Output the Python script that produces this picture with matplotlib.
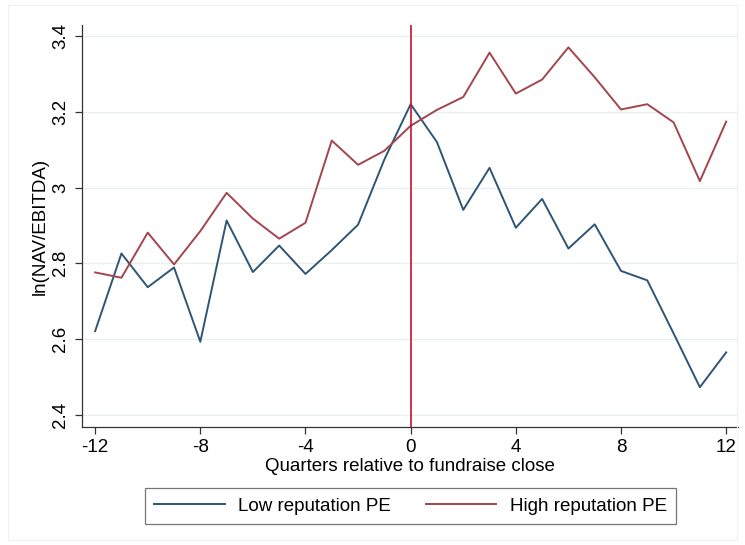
import matplotlib
matplotlib.use("Agg")
import matplotlib.pyplot as plt
from matplotlib.patches import Rectangle

quarters = list(range(-12, 13))
low_rep = [2.621, 2.826, 2.737, 2.789, 2.593, 2.913, 2.777, 2.847, 2.772, 2.835, 2.902, 3.074,
           3.220, 3.120, 2.941, 3.052, 2.894, 2.970, 2.839, 2.903, 2.780, 2.755, 2.615, 2.473, 2.565]
high_rep = [2.776, 2.762, 2.881, 2.797, 2.885, 2.986, 2.918, 2.865, 2.907, 3.124, 3.060, 3.097,
            3.163, 3.205, 3.239, 3.356, 3.248, 3.285, 3.370, 3.291, 3.206, 3.220, 3.172, 3.017, 3.174]
xticks = [-12, -8, -4, 0, 4, 8, 12]
yticks = [2.4, 2.6, 2.8, 3.0, 3.2, 3.4]
ytick_labels = ["2.4", "2.6", "2.8", "3", "3.2", "3.4"]

plt.rcParams['font.family'] = ['Liberation Sans', 'DejaVu Sans']
FS = 13.5

fig = plt.figure(figsize=(7.45, 5.45), dpi=100)
fig.patch.set_facecolor('white')
fig.patches.append(Rectangle((8/745, 1 - 540/545), 729/745, 535/545, transform=fig.transFigure,
                             fill=False, edgecolor='#f0f0f0', linewidth=0.8))

ax = fig.add_axes([82/745, 1 - 427/545, 656/745, 402/545])
ax.plot(quarters, low_rep, color='#2e5577', lw=1.4, label='Low reputation PE', zorder=3)
ax.plot(quarters, high_rep, color='#a2454d', lw=1.4, label='High reputation PE', zorder=3)
ax.axvline(0, color='#c8102e', lw=1.2, zorder=4)

ax.set_xlim(-12.5, 12.45)
ax.set_ylim(2.368, 3.429)
ax.set_xticks(xticks)
ax.set_xticklabels([str(t) for t in xticks], fontsize=FS)
ax.set_yticks(yticks)
ax.set_yticklabels(ytick_labels, fontsize=FS, rotation=90, va='center')
ax.grid(axis='y', color='#e8f0f3', lw=1.0)
ax.grid(axis='x', visible=False)
ax.set_axisbelow(True)
for s in ['top', 'right']:
    ax.spines[s].set_visible(False)
for s in ['left', 'bottom']:
    ax.spines[s].set_color('#333333')
    ax.spines[s].set_linewidth(0.9)
ax.tick_params(axis='both', direction='out', length=5, width=0.9, color='#333333', pad=4)
ax.set_xlabel('Quarters relative to fundraise close', fontsize=FS, labelpad=1)
ax.set_ylabel('ln(NAV/EBITDA)', fontsize=FS, labelpad=3)

leg = fig.legend(loc='center', bbox_to_anchor=(410.5/745, 1 - 506/545), ncol=2, fontsize=FS,
                 frameon=True, fancybox=False, edgecolor='#555555', handlelength=3.75,
                 columnspacing=1.85, borderpad=0.48, handletextpad=0.72, borderaxespad=0)
leg.get_frame().set_linewidth(0.9)

fig.savefig('out.png', dpi=100, facecolor='white')
